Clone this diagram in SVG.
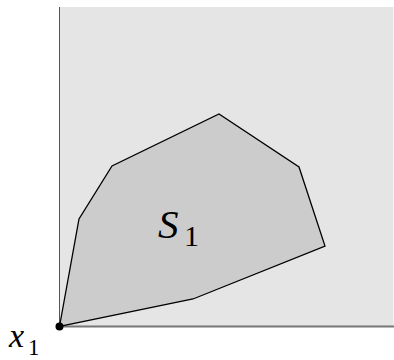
<svg xmlns="http://www.w3.org/2000/svg" width="394" height="360" viewBox="0 0 394 360">
<style>
.t{font-family:'Liberation Serif',serif}
</style>
<rect x="0" y="0" width="394" height="360" fill="#fff"/>
<g id="region">
<rect x="59.5" y="7" width="334" height="319.5" fill="#e5e5e5"/>
<line x1="59.5" y1="7" x2="59.5" y2="326.5" stroke="#555" stroke-width="1"/>
<line x1="59.5" y1="326.5" x2="394" y2="326.5" stroke="#777" stroke-width="2"/>
</g>
<g id="S1">
<polygon points="59.5,326.5 79,219 112,166 219,114 299,167 325,246 193,299" fill="#cccccc" stroke="#000" stroke-width="1.3" stroke-linejoin="miter"/>
<text x="158" y="238" style="font-family:'Liberation Serif',serif;font-size:41px;font-style:italic" fill="#000">S</text>
<text x="184" y="246" style="font-family:'Liberation Serif',serif;font-size:30px" fill="#000">1</text>
</g>
<g id="x1">
<circle cx="59.5" cy="326.5" r="4" fill="#000"/>
<text x="9" y="347" font-size="34" font-family="serif" font-style="italic" fill="#000">x</text>
<text x="28" y="355" font-size="23" font-family="serif" fill="#000">1</text>
</g>
</svg>
